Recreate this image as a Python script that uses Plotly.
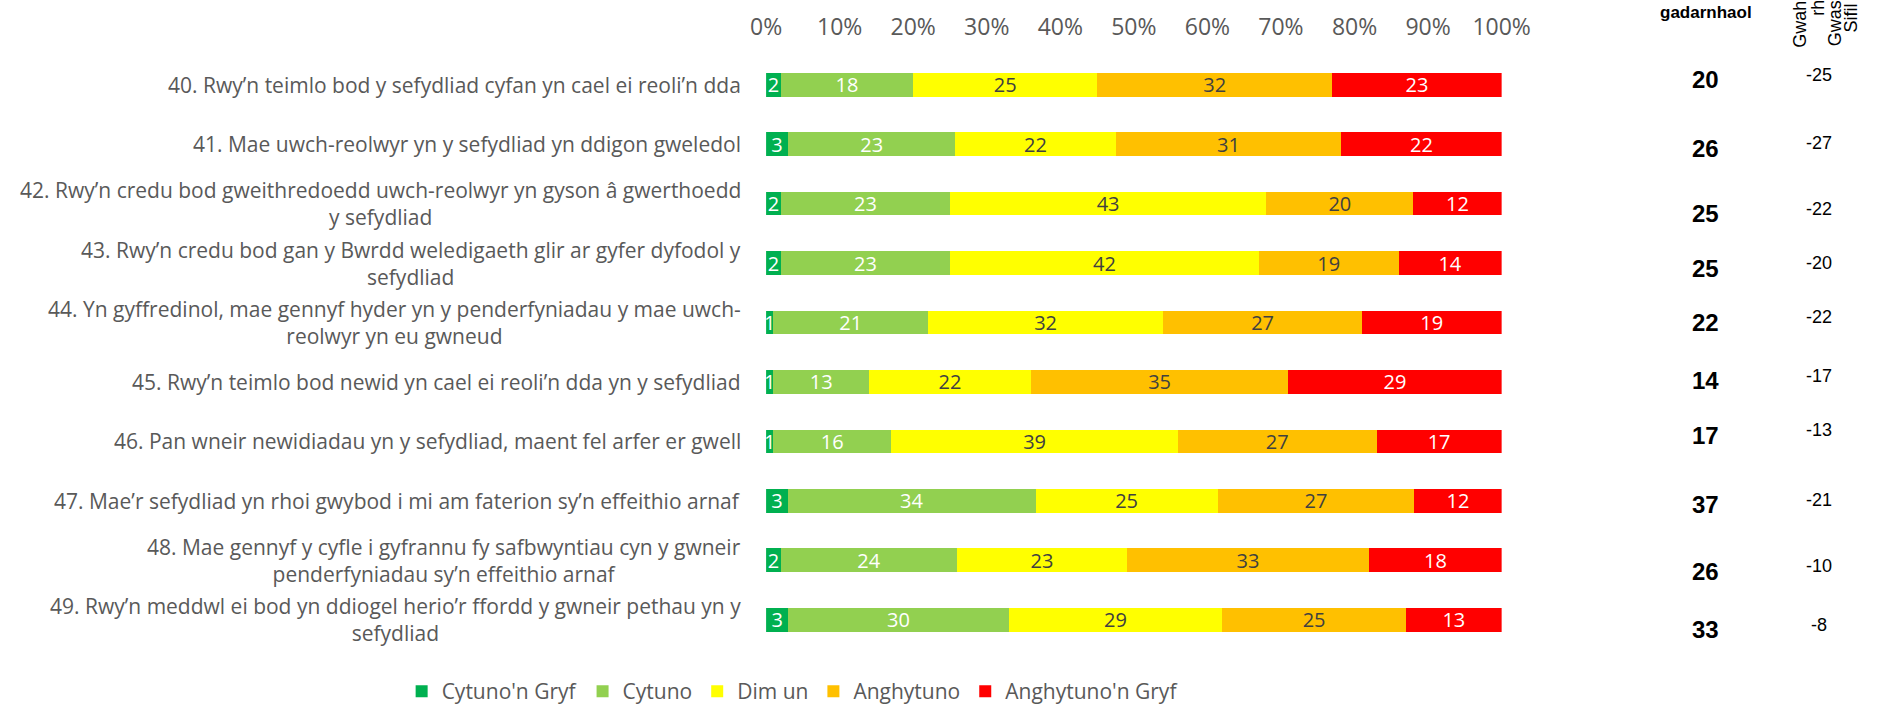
import plotly.graph_objects as go

questions = [
    "40. Rwy’n teimlo bod y sefydliad cyfan yn cael ei reoli’n dda",
    "41. Mae uwch-reolwyr yn y sefydliad yn ddigon gweledol",
    "42. Rwy’n credu bod gweithredoedd uwch-reolwyr yn gyson â gwerthoedd<br>y sefydliad",
    "43. Rwy’n credu bod gan y Bwrdd weledigaeth glir ar gyfer dyfodol y<br>sefydliad",
    "44. Yn gyffredinol, mae gennyf hyder yn y penderfyniadau y mae uwch-<br>reolwyr yn eu gwneud",
    "45. Rwy’n teimlo bod newid yn cael ei reoli’n dda yn y sefydliad",
    "46. Pan wneir newidiadau yn y sefydliad, maent fel arfer er gwell",
    "47. Mae’r sefydliad yn rhoi gwybod i mi am faterion sy’n effeithio arnaf",
    "48. Mae gennyf y cyfle i gyfrannu fy safbwyntiau cyn y gwneir<br>penderfyniadau sy’n effeithio arnaf",
    "49. Rwy’n meddwl ei bod yn ddiogel herio’r ffordd y gwneir pethau yn y<br>sefydliad",
]
cats = ["Q" + q.split(".")[0] for q in questions]

series_names = ["Cytuno'n Gryf", "Cytuno", "Dim un", "Anghytuno", "Anghytuno'n Gryf"]
cytuno_gryf = [2, 3, 2, 2, 1, 1, 1, 3, 2, 3]
cytuno = [18, 23, 23, 23, 21, 13, 16, 34, 24, 30]
dim_un = [25, 22, 43, 42, 32, 22, 39, 25, 23, 29]
anghytuno = [32, 31, 20, 19, 27, 35, 27, 27, 33, 25]
anghytuno_gryf = [23, 22, 12, 14, 19, 29, 17, 12, 18, 13]

positive_total = [20, 26, 25, 25, 22, 14, 17, 37, 26, 33]
diff_cs = [-25, -27, -22, -20, -22, -17, -13, -21, -10, -8]

tick_vals = [0, 10, 20, 30, 40, 50, 60, 70, 80, 90, 100]

# styles
colors = ["#00B050", "#92D050", "#FFFF00", "#FFC000", "#FF0000"]
text_colors = ["white", "white", "#404040", "#404040", "white"]
W, H = 1899, 712  # reference canvas; x positions below are fractions of W
label_font = "Open Sans, sans-serif"
arial = "Liberation Sans, Arial, sans-serif"
right_offsets = [-5, 4, 10, 5, 0, -1, -6, 4, 11, 10]  # pixel nudges of right-hand columns

fig = go.Figure()
for name, vals, col, tcol in zip(series_names,
                                 [cytuno_gryf, cytuno, dim_un, anghytuno, anghytuno_gryf],
                                 colors, text_colors):
    fig.add_trace(go.Bar(
        y=cats, x=vals, name=name, orientation="h",
        marker=dict(color=col, line=dict(width=0)),
        text=[str(v) for v in vals], texttemplate="%{text}",
        textposition="inside", insidetextanchor="middle",
        constraintext="none", textangle=0,
        textfont=dict(family=label_font, size=20, color=tcol),
        hoverinfo="skip",
    ))

annotations = []
for i, q in enumerate(questions):
    annotations.append(dict(
        x=745 / W, xref="paper", xanchor="right",
        y=i, yref="y", yanchor="middle",
        text=q, showarrow=False, align="center",
        font=dict(family=label_font, size=21, color="#595959"),
    ))
for i, (p, d, off) in enumerate(zip(positive_total, diff_cs, right_offsets)):
    annotations.append(dict(
        x=1731 / W, xref="paper", xanchor="center",
        y=i, yref="y", yanchor="middle", yshift=-off,
        text=f"<b>{p}</b>", showarrow=False,
        font=dict(family=arial, size=24, color="black"),
    ))
    annotations.append(dict(
        x=1847 / W, xref="paper", xanchor="center",
        y=i, yref="y", yanchor="middle", yshift=-off + 5,
        text=str(d), showarrow=False,
        font=dict(family=arial, size=18, color="black"),
    ))

annotations.append(dict(
    x=1731 / W, xref="paper", xanchor="center",
    y=1 - 12 / H, yref="paper", yanchor="middle",
    text="<b>gadarnhaol</b>", showarrow=False,
    font=dict(family=arial, size=17, color="black"),
))
# rotated header, clipped by the top edge as in the original
for txt, xpx, bottom in [("Gwahaniaeth", 1827, 50), ("rhwng", 1845, 18),
                         ("Gwasanaeth", 1864, 48), ("Sifil 2013", 1880, 34)]:
    annotations.append(dict(
        x=xpx / W, xref="paper", xanchor="center",
        y=1 - bottom / H, yref="paper", yanchor="bottom",
        text=txt, textangle=-90, showarrow=False,
        font=dict(family=arial, size=18, color="black"),
    ))

fig.update_layout(
    autosize=True, height=H,
    margin=dict(l=0, r=0, t=0, b=0),
    paper_bgcolor="white", plot_bgcolor="white",
    barmode="stack", barnorm="percent", bargap=0.6,
    annotations=annotations,
    showlegend=True,
    legend=dict(orientation="h", x=395 / W, xanchor="left",
                y=0, yanchor="bottom", traceorder="normal",
                font=dict(family=label_font, size=21, color="#595959"),
                itemclick=False, itemdoubleclick=False),
    xaxis=dict(domain=[768.3 / W, 1521.7 / W], range=[0, 100], side="top",
               tickvals=tick_vals, ticktext=[f"{v}%" for v in tick_vals],
               showgrid=False, zeroline=False, showline=False, ticks="",
               ticklabelstandoff=14,
               tickfont=dict(family=label_font, size=23, color="#595959"),
               fixedrange=True),
    yaxis=dict(domain=[(H - 649.5) / H, (H - 54.9) / H], range=[9.5, -0.5],
               type="category", categoryorder="array", categoryarray=cats,
               showticklabels=False, showgrid=False, zeroline=False,
               showline=False, ticks="", fixedrange=True),
)

fig.write_html(
    "out.html",
    default_width="100%",
    config={"displayModeBar": False, "responsive": True},
    post_script=(
        "document.documentElement.style.margin='0';"
        "document.documentElement.style.overflow='hidden';"
        "document.body.style.margin='0';"
        "document.body.style.overflow='hidden';"
        "window.dispatchEvent(new Event('resize'));"
    ),
)
